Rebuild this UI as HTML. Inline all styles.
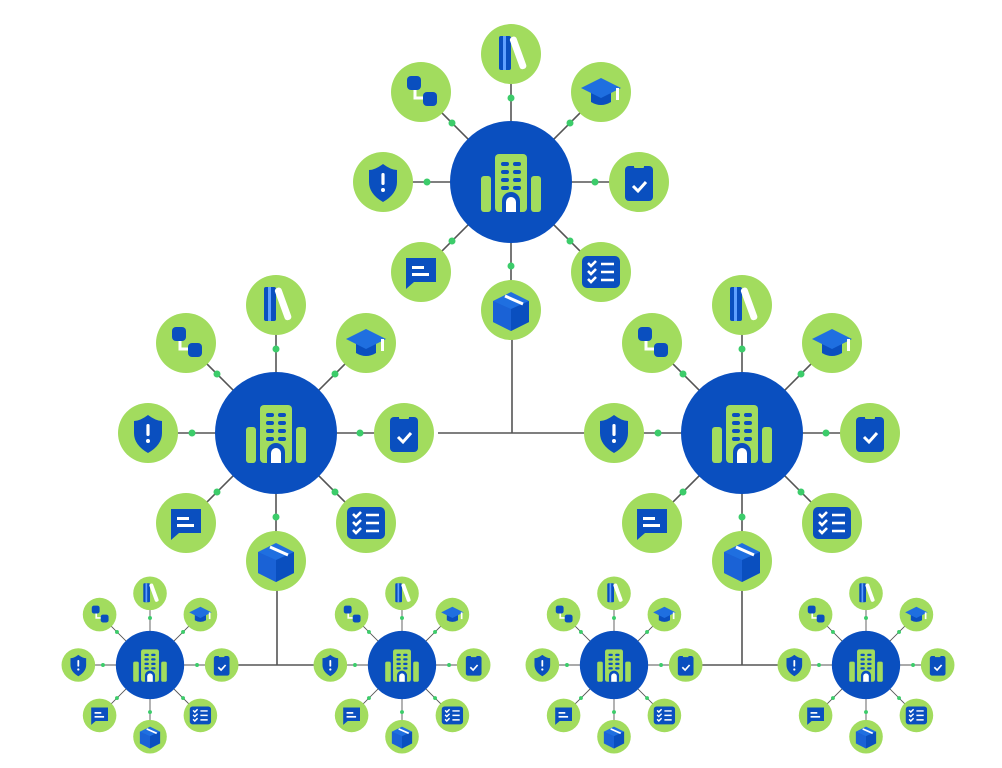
<!DOCTYPE html>
<html><head><meta charset="utf-8"><style>html,body{margin:0;padding:0;background:#fff}svg{display:block}</style></head>
<body>
<svg width="1002" height="768" viewBox="0 0 1002 768" xmlns="http://www.w3.org/2000/svg">
<defs>
<g id="sat"><circle r="30" fill="#a2dc5e"/></g>
<g id="cl">
  <g stroke="#555" stroke-width="1.6">
    <line x1="0" y1="0" x2="0" y2="-128"/><line x1="0" y1="0" x2="0" y2="128"/>
    <line x1="0" y1="0" x2="-128" y2="0"/><line x1="0" y1="0" x2="128" y2="0"/>
    <line x1="0" y1="0" x2="-90" y2="-90"/><line x1="0" y1="0" x2="90" y2="-90"/>
    <line x1="0" y1="0" x2="-90" y2="90"/><line x1="0" y1="0" x2="90" y2="90"/>
  </g>
  <g fill="#3ccc6a">
    <circle cx="0" cy="-84" r="3.5"/><circle cx="0" cy="84" r="3.5"/>
    <circle cx="-84" cy="0" r="3.5"/><circle cx="84" cy="0" r="3.5"/>
    <circle cx="-59" cy="-59" r="3.5"/><circle cx="59" cy="-59" r="3.5"/>
    <circle cx="-59" cy="59" r="3.5"/><circle cx="59" cy="59" r="3.5"/>
  </g>
  <circle r="61" fill="#0a4fbf"/>
  <!-- building -->
  <g fill="#a2dc5e">
    <rect x="-16" y="-28" width="32" height="58" rx="4"/>
    <rect x="-30" y="-6" width="10" height="36" rx="3"/>
    <rect x="20" y="-6" width="10" height="36" rx="3"/>
  </g>
  <g fill="#0a4fbf">
    <rect x="-10" y="-20" width="8" height="4" rx="2"/><rect x="2" y="-20" width="8" height="4" rx="2"/>
    <rect x="-10" y="-12" width="8" height="4" rx="2"/><rect x="2" y="-12" width="8" height="4" rx="2"/>
    <rect x="-10" y="-4" width="8" height="4" rx="2"/><rect x="2" y="-4" width="8" height="4" rx="2"/>
    <rect x="-10" y="4" width="8" height="4" rx="2"/><rect x="2" y="4" width="8" height="4" rx="2"/>
    <path d="M-9 30 V19 a9 9 0 0 1 18 0 V30 Z"/>
  </g>
  <path d="M-5 30 V20 a5 5 0 0 1 10 0 V30 Z" fill="#fff"/>
  <!-- satellites -->
  <g transform="translate(0,-128)"><use href="#sat"/>
    <rect x="-12" y="-18" width="12" height="34" rx="2" fill="#0a4fbf"/><rect x="-8" y="-18" width="3" height="34" fill="#5fa0ff"/>
    <rect x="4" y="-18" width="7" height="34" rx="3" fill="#fff" transform="rotate(-20 7 0)"/></g>
  <g transform="translate(-90,-90)"><use href="#sat"/>
    <path d="M-6 -4 V6 H4" stroke="#fff" stroke-width="3" fill="none"/>
    <rect x="-14" y="-16" width="14" height="14" rx="4" fill="#0a4fbf"/><rect x="2" y="0" width="14" height="14" rx="4" fill="#0a4fbf"/></g>
  <g transform="translate(90,-90)"><use href="#sat"/>
    <path d="M-10 0 V10 Q0 16 10 10 V0 Z" fill="#0a4fbf"/>
    <path d="M-20 -4 L0 -14 L20 -4 L0 6 Z" fill="#1f6fe0"/><rect x="15" y="-4" width="3" height="12" fill="#fff"/></g>
  <g transform="translate(-128,0)"><use href="#sat"/>
    <path d="M0 -18 Q-8 -12 -14 -12 V0 Q-14 12 0 20 Q14 12 14 0 V-12 Q8 -12 0 -18Z" fill="#0a4fbf"/>
    <rect x="-1.6" y="-9" width="3.2" height="12" rx="1.5" fill="#fff"/><circle cy="8" r="2" fill="#fff"/></g>
  <g transform="translate(128,0)"><use href="#sat"/>
    <rect x="-14" y="-16" width="28" height="35" rx="4" fill="#0a4fbf"/><rect x="-5" y="-19" width="10" height="5" rx="1" fill="#a2dc5e"/>
    <path d="M-6 4 L-1 9 L7 0" stroke="#fff" stroke-width="3" fill="none"/></g>
  <g transform="translate(-90,90)"><use href="#sat"/>
    <path d="M-15 -14 H15 V10 H-7 L-15 17 Z" fill="#0a4fbf"/>
    <rect x="-9" y="-6" width="12" height="3" fill="#fff"/><rect x="-9" y="1" width="17" height="3" fill="#fff"/></g>
  <g transform="translate(90,90)"><use href="#sat"/>
    <rect x="-19" y="-16" width="38" height="32" rx="5" fill="#0a4fbf"/>
    <g stroke="#fff" stroke-width="2.6" fill="none"><path d="M-13 -9 L-10 -6 L-5 -11"/><path d="M-13 -1 L-10 2 L-5 -3"/><path d="M-13 7 L-10 10 L-5 5"/>
    <path d="M0 -8 H13 M0 0 H13 M0 8 H13"/></g></g>
  <g transform="translate(0,128)"><use href="#sat"/>
    <path d="M0 -18 L18 -9 V12 L0 21 L-18 12 V-9 Z" fill="#1f6fe0"/>
    <path d="M0 -1 L18 -9 V12 L0 21 Z" fill="#0a4fbf"/><path d="M-18 -9 L0 -1 V21 L-18 12Z" fill="#1a62d6"/>
    <path d="M-6 -14 L12 -6" stroke="#fff" stroke-width="3"/></g>
</g>
</defs>
<g stroke="#555" stroke-width="1.6" fill="none">
  <path d="M512 310 V433 M438 433 H612"/>
  <path d="M277 561 V665 M222 665 H331"/>
  <path d="M742 561 V665 M685 665 H795"/>
</g>
<use href="#cl" transform="translate(511,182)"/>
<use href="#cl" transform="translate(276,433)"/>
<use href="#cl" transform="translate(742,433)"/>
<use href="#cl" transform="translate(150,665) scale(0.56)"/>
<use href="#cl" transform="translate(402,665) scale(0.56)"/>
<use href="#cl" transform="translate(614,665) scale(0.56)"/>
<use href="#cl" transform="translate(866,665) scale(0.56)"/>
</svg>
</body></html>
